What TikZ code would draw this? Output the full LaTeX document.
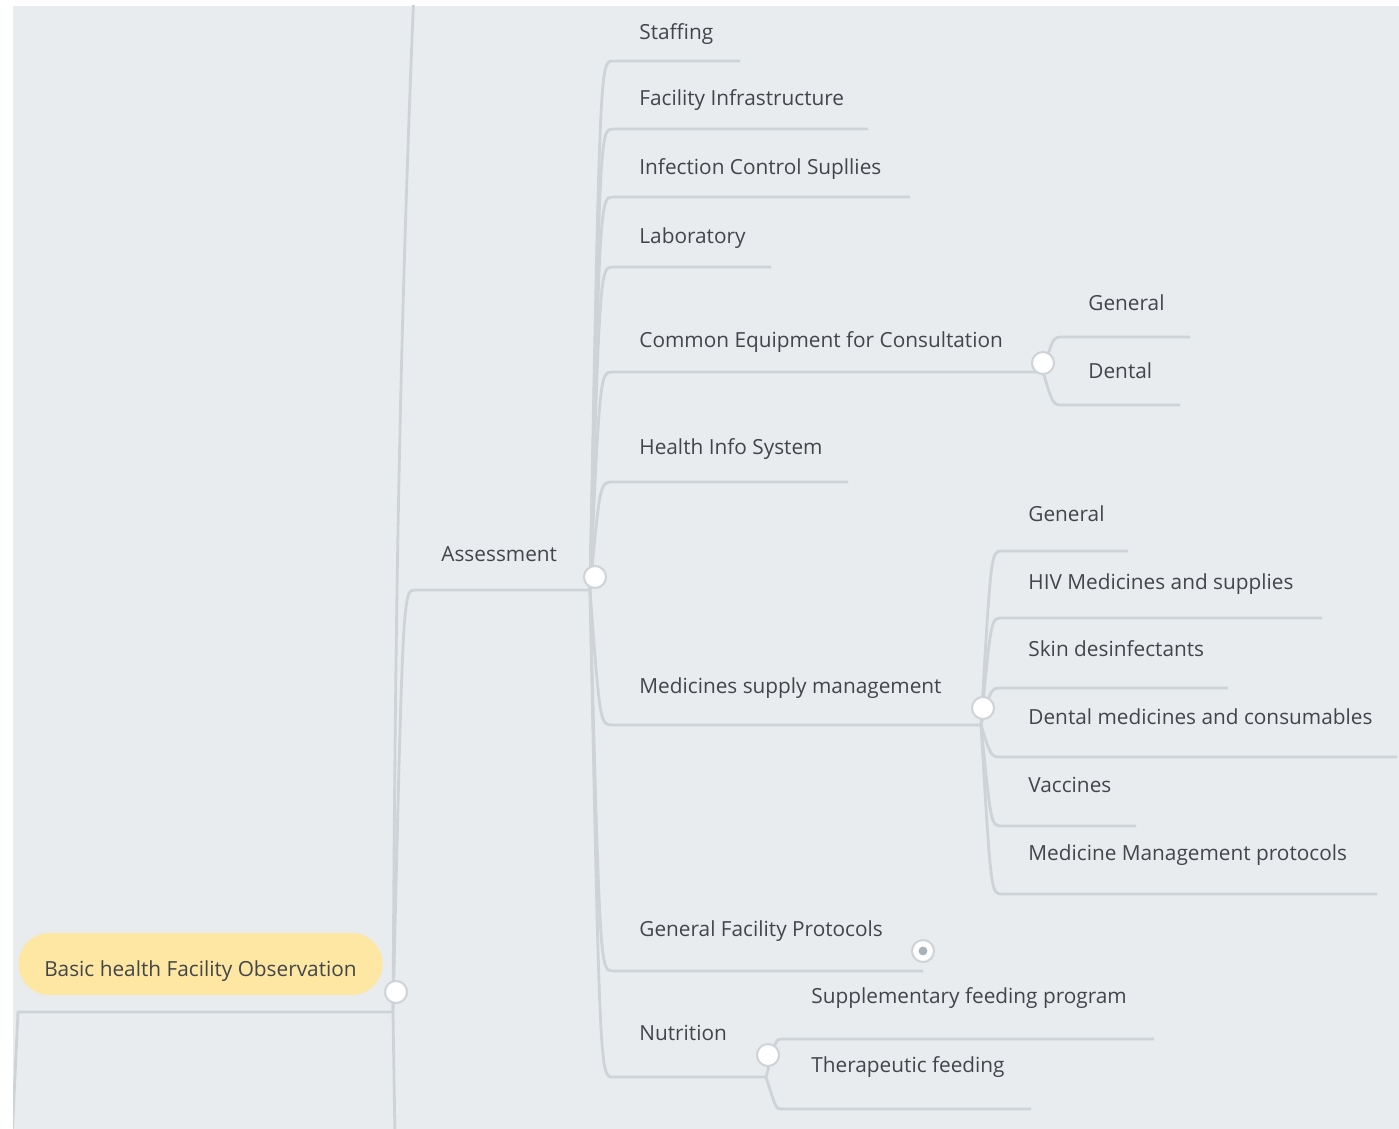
\documentclass[tikz,border=0pt]{standalone}
\usepackage{fontspec}
\setmainfont{Open Sans}
\usetikzlibrary{calc}
\definecolor{bgc}{RGB}{232,236,239}
\definecolor{linec}{RGB}{206,211,215}
\definecolor{textc}{RGB}{66,70,74}
\definecolor{rootc}{RGB}{253,231,163}
\definecolor{dotc}{RGB}{168,178,186}
\begin{document}
\begin{tikzpicture}[x=0.5pt, y=-0.5pt,
  topic/.style={anchor=base west, inner sep=0pt, text=textc, font=\fontsize{10.4}{12}\selectfont},
  rootnode/.style={fill=rootc, rounded corners=15.5pt, minimum width=182pt, minimum height=31pt, inner sep=0pt, text height=12pt, text depth=0pt, text=textc, font=\fontsize{10.4}{12}\selectfont},
  link/.style={draw=linec, line width=1.4pt},
  branch/.style={to path={.. controls ($(\tikztostart |- \tikztotarget)+(10,0)$) .. (\tikztotarget)}},
  knob/.style={circle, fill=white, draw=linec, line width=1pt, minimum size=11pt, inner sep=0pt}]
  \useasboundingbox (0,0) rectangle (1399,1129);
  \fill[white] (0,0) rectangle (1399,1129);
  \fill[bgc] (13,6) rectangle (1399,1129);
  \begin{scope}
  \clip (13,6) rectangle (1399,1129);
  % underline ends
  \coordinate (rootIn) at (12,1140);
  \coordinate (rootL) at (18,1012);
  \coordinate (rootS) at (393,1012);
  \coordinate (rootUp) at (414,-10);
  \coordinate (rootDown) at (395,1140);
  \coordinate (asmL) at (415,590);
  \coordinate (asmS) at (590,590);
  \coordinate (staffL) at (613,61);    \coordinate (staffR) at (740,61);
  \coordinate (infraL) at (613,129);   \coordinate (infraR) at (868,129);
  \coordinate (infectL) at (613,197);  \coordinate (infectR) at (910,197);
  \coordinate (labL) at (613,267);     \coordinate (labR) at (771,267);
  \coordinate (ceL) at (613,372);      \coordinate (ceS) at (1043,372);
  \coordinate (hisL) at (613,482);     \coordinate (hisR) at (848,482);
  \coordinate (medL) at (613,725);     \coordinate (medS) at (981,725);
  \coordinate (gfpL) at (613,971);     \coordinate (gfpR) at (923,971);
  \coordinate (nutL) at (613,1077);    \coordinate (nutS) at (766,1077);
  \coordinate (ceGenL) at (1063,337);  \coordinate (ceGenR) at (1190,337);
  \coordinate (ceDenL) at (1063,405);  \coordinate (ceDenR) at (1180,405);
  \coordinate (medGenL) at (1002,551); \coordinate (medGenR) at (1128,551);
  \coordinate (medHivL) at (1002,618); \coordinate (medHivR) at (1322,618);
  \coordinate (medSkinL) at (1002,688); \coordinate (medSkinR) at (1228,688);
  \coordinate (medDenL) at (1002,757); \coordinate (medDenR) at (1397,757);
  \coordinate (medVacL) at (1002,826); \coordinate (medVacR) at (1136,826);
  \coordinate (medManL) at (1002,894); \coordinate (medManR) at (1377,894);
  \coordinate (nutSupL) at (782,1039); \coordinate (nutSupR) at (1154,1039);
  \coordinate (nutTheL) at (782,1109); \coordinate (nutTheR) at (1031,1109);
  % links
  \draw[link] (rootIn) -- (rootL) -- (rootS);
  \draw[link] (rootS) .. controls (395,700) and (397,400) .. (rootUp);
  \draw[link] (rootS) -- (rootDown);
  \draw[link] (rootS) to[branch] (asmL) -- (asmS);
  \draw[link] (asmS) to[branch] (staffL) -- (staffR);
  \draw[link] (asmS) to[branch] (infraL) -- (infraR);
  \draw[link] (asmS) to[branch] (infectL) -- (infectR);
  \draw[link] (asmS) to[branch] (labL) -- (labR);
  \draw[link] (asmS) to[branch] (ceL) -- (ceS);
  \draw[link] (asmS) to[branch] (hisL) -- (hisR);
  \draw[link] (asmS) to[branch] (medL) -- (medS);
  \draw[link] (asmS) to[branch] (gfpL) -- (gfpR);
  \draw[link] (asmS) to[branch] (nutL) -- (nutS);
  \draw[link] (ceS) to[branch] (ceGenL) -- (ceGenR);
  \draw[link] (ceS) to[branch] (ceDenL) -- (ceDenR);
  \draw[link] (medS) to[branch] (medGenL) -- (medGenR);
  \draw[link] (medS) to[branch] (medHivL) -- (medHivR);
  \draw[link] (medS) to[branch] (medSkinL) -- (medSkinR);
  \draw[link] (medS) to[branch] (medDenL) -- (medDenR);
  \draw[link] (medS) to[branch] (medVacL) -- (medVacR);
  \draw[link] (medS) to[branch] (medManL) -- (medManR);
  \draw[link] (nutS) to[branch] (nutSupL) -- (nutSupR);
  \draw[link] (nutS) to[branch] (nutTheL) -- (nutTheR);
  % junctions
  \node[knob] (rootK) at (396,992) {};
  \node[knob] (asmK) at (595,577) {};
  \node[knob] (ceK) at (1043,363) {};
  \node[knob] (medK) at (983,708) {};
  \node[knob] (nutK) at (768,1055) {};
  \node[knob] (gfpK) at (923,951) {};
  \fill[dotc] (gfpK) circle (2.2pt);
  % topics
  \node[rootnode] (root) at (200.5,964) {Basic health Facility Observation};
  \node[topic] (asm) at (441,561) {Assessment};
  \node[topic] (staff) at (639,40) {Staffing};
  \node[topic] (infra) at (639,106) {Facility Infrastructure};
  \node[topic] (infect) at (639,175) {Infection Control Supllies};
  \node[topic] (lab) at (639,243) {Laboratory};
  \node[topic] (ce) at (639,347) {Common Equipment for Consultation};
  \node[topic] (his) at (639,454) {Health Info System};
  \node[topic] (med) at (639,693) {Medicines supply management};
  \node[topic] (gfp) at (639,936) {General Facility Protocols};
  \node[topic] (nut) at (639,1040) {Nutrition};
  \node[topic] (ceGen) at (1088,310) {General};
  \node[topic] (ceDen) at (1088,378) {Dental};
  \node[topic] (medGen) at (1028,521) {General};
  \node[topic] (medHiv) at (1028,589) {HIV Medicines and supplies};
  \node[topic] (medSkin) at (1028,656) {Skin desinfectants};
  \node[topic] (medDen) at (1028,724) {Dental medicines and consumables};
  \node[topic] (medVac) at (1028,792) {Vaccines};
  \node[topic] (medMan) at (1028,860) {Medicine Management protocols};
  \node[topic] (nutSup) at (811,1003) {Supplementary feeding program};
  \node[topic] (nutThe) at (811,1072) {Therapeutic feeding};
  \end{scope}
\end{tikzpicture}
\end{document}
